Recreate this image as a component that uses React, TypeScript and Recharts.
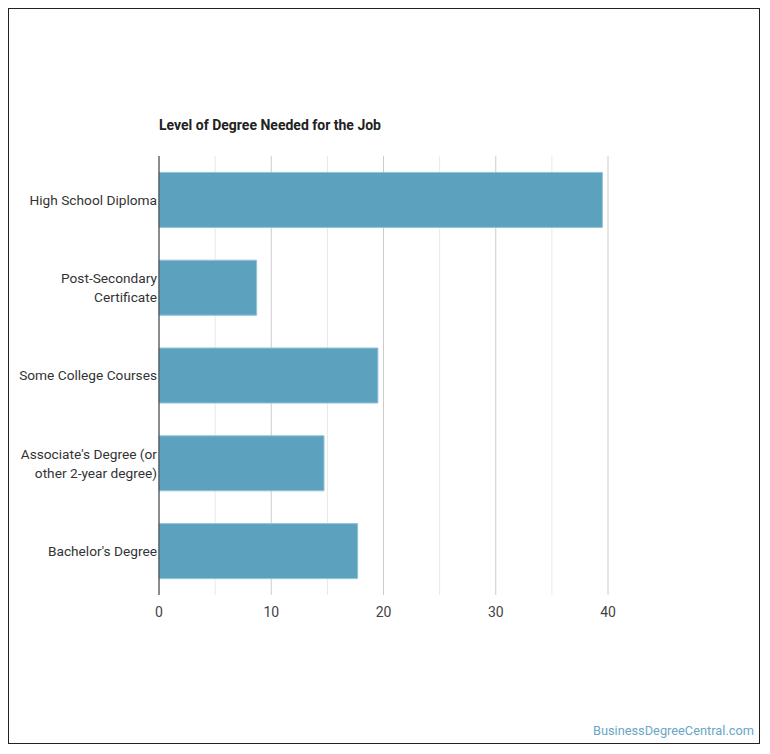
import { Bar, BarChart, CartesianGrid, XAxis, YAxis } from 'recharts'

const CATEGORIES = [
  'High School Diploma',
  'Post-Secondary\nCertificate',
  'Some College Courses',
  "Associate's Degree (or\nother 2-year degree)",
  "Bachelor's Degree",
]
const VALUES = [39.5, 8.7, 19.5, 14.7, 17.7]
const MAJOR_TICKS = [0, 10, 20, 30, 40]
const MINOR_TICKS = [5, 15, 25, 35]

const FONT = 'Roboto, "Noto Sans", sans-serif'
const BAR_BLUE = '#5ca1be'

const rows = CATEGORIES.map((name, i) => ({ name, value: VALUES[i] }))

interface TickProps {
  x?: number
  y?: number
  payload?: { value: string }
}

function CategoryTick({ x = 0, y = 0, payload }: TickProps) {
  const lines = String(payload?.value ?? '').split('\n')
  const lineH = 19
  const start = -((lines.length - 1) * lineH) / 2
  return (
    <text x={x} y={y} textAnchor="end" fill="#333" fontSize={13.7} fontFamily={FONT}>
      {lines.map((ln, i) => (
        <tspan key={i} x={x} dy={i === 0 ? start + 4.9 : lineH}>
          {ln}
        </tspan>
      ))}
    </text>
  )
}

export default function App() {
  return (
    <div
      style={{
        position: 'relative',
        width: 752,
        height: 736,
        border: '1px solid #222',
        boxSizing: 'border-box',
        fontFamily: FONT,
        background: '#fff',
      }}
    >
      <div
        style={{
          position: 'absolute',
          left: 150,
          top: 108,
          fontSize: 14,
          fontWeight: 700,
          color: '#222',
          whiteSpace: 'nowrap',
        }}
      >
        Level of Degree Needed for the Job
      </div>
      <BarChart
        width={750}
        height={734}
        data={rows}
        layout="vertical"
        margin={{ top: 147, right: 151, left: 0, bottom: 118 }}
        barCategoryGap="18.7%"
      >
        <CartesianGrid horizontal={false} verticalValues={MINOR_TICKS} stroke="#e8e8e8" strokeWidth={1} />
        <CartesianGrid horizontal={false} verticalValues={MAJOR_TICKS} stroke="#cccccc" strokeWidth={1} />
        <XAxis
          type="number"
          domain={[0, 40]}
          ticks={MAJOR_TICKS}
          axisLine={false}
          tickLine={false}
          tickMargin={6}
          height={30}
          tick={{ fill: '#444', fontSize: 14, fontFamily: FONT }}
        />
        <YAxis
          type="category"
          dataKey="name"
          width={150}
          axisLine={{ stroke: '#333', strokeWidth: 1 }}
          tickLine={false}
          tickSize={0}
          tickMargin={2}
          interval={0}
          tick={<CategoryTick />}
        />
        <Bar
          dataKey="value"
          fill={BAR_BLUE}
          stroke="#93c3d6"
          strokeWidth={1}
          isAnimationActive={false}
        />
      </BarChart>
      <div
        style={{
          position: 'absolute',
          right: 5,
          top: 714,
          fontSize: 12.8,
          color: '#6aa6c5',
          whiteSpace: 'nowrap',
        }}
      >
        BusinessDegreeCentral.com
      </div>
    </div>
  )
}
